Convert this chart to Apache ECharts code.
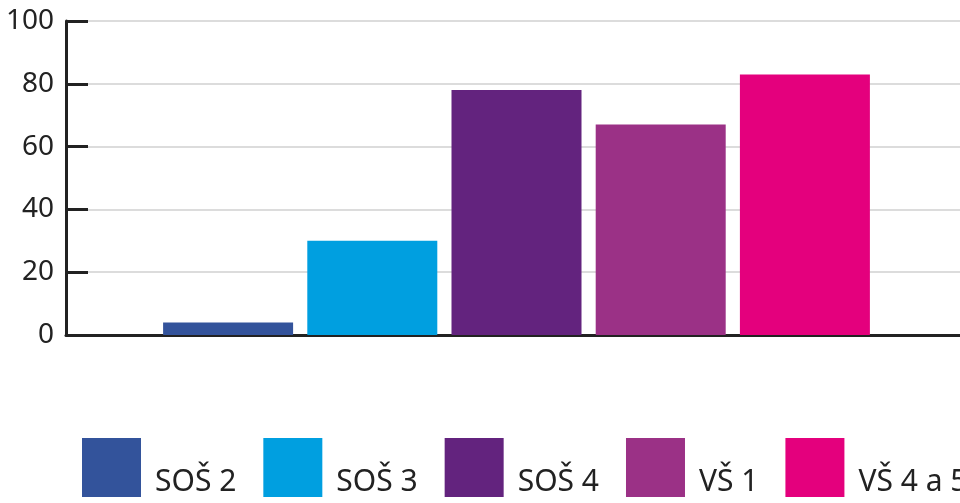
<!DOCTYPE html>
<html>
<head>
<meta charset="utf-8">
<script src="https://cdn.jsdelivr.net/npm/echarts@6/dist/echarts.min.js"></script>
<style>
  html, body { margin: 0; padding: 0; background: #fff; }
  #chart { width: 960px; height: 503px; }
</style>
</head>
<body>
<div id="chart"></div>
<script>
const categories = ['SOŠ 2', 'SOŠ 3', 'SOŠ 4', 'VŠ 1', 'VŠ 4 a 5']
const values = [4, 30, 78, 67, 83]
const colors = ['#33539b', '#009fe0', '#63237e', '#9b3186', '#e4007d']
const yTicks = [0, 20, 40, 60, 80, 100]

const chart = echarts.init(document.getElementById('chart'))

// one series per category so the legend can list each bar
const series = categories.map((name, i) => ({
  name,
  type: 'bar',
  stack: 'all',
  xAxisIndex: 1,
  yAxisIndex: 1,
  barWidth: 130,
  itemStyle: { color: colors[i] },
  data: values.map((v, j) => (j === i ? v : '-'))
}))

const option = {
  animation: false,
  textStyle: { fontFamily: 'Noto Sans' },
  grid: [
    // axes frame
    { left: 66, right: 0, top: 21, bottom: 168, containLabel: false },
    // bars
    { left: 156, right: 83, top: 21, bottom: 168, containLabel: false }
  ],
  xAxis: [
    {
      gridIndex: 0,
      type: 'value',
      min: 0,
      max: 1,
      axisLine: { show: true, onZero: false, lineStyle: { color: '#222', width: 3 } },
      axisTick: { show: false },
      axisLabel: { show: false },
      splitLine: { show: false }
    },
    {
      gridIndex: 1,
      type: 'category',
      data: categories,
      show: false
    }
  ],
  yAxis: [
    {
      gridIndex: 0,
      type: 'value',
      min: yTicks[0],
      max: yTicks[yTicks.length - 1],
      interval: 20,
      axisLine: { show: true, lineStyle: { color: '#222', width: 3 } },
      axisTick: { show: true, inside: true, length: 22, lineStyle: { color: '#222', width: 3 } },
      axisLabel: { color: '#222', fontSize: 28, fontFamily: 'Noto Sans', margin: 12 },
      splitLine: { show: true, lineStyle: { color: '#dcdcdc', width: 2 } }
    },
    {
      gridIndex: 1,
      type: 'value',
      min: 0,
      max: 100,
      show: false,
      splitLine: { show: false }
    }
  ],
  legend: {
    left: 82,
    top: 438,
    width: 1200,
    padding: 0,
    icon: 'rect',
    itemWidth: 59,
    itemHeight: 59,
    itemGap: 27,
    selectedMode: false,
    data: categories,
    formatter: name => '{t|' + name + '}',
    textStyle: {
      color: '#222',
      fontSize: 30,
      rich: {
        t: { color: '#222', fontSize: 30, fontFamily: 'Noto Sans', padding: [30, 0, 0, 9] }
      }
    }
  },
  series
}

chart.setOption(option)
</script>
</body>
</html>
